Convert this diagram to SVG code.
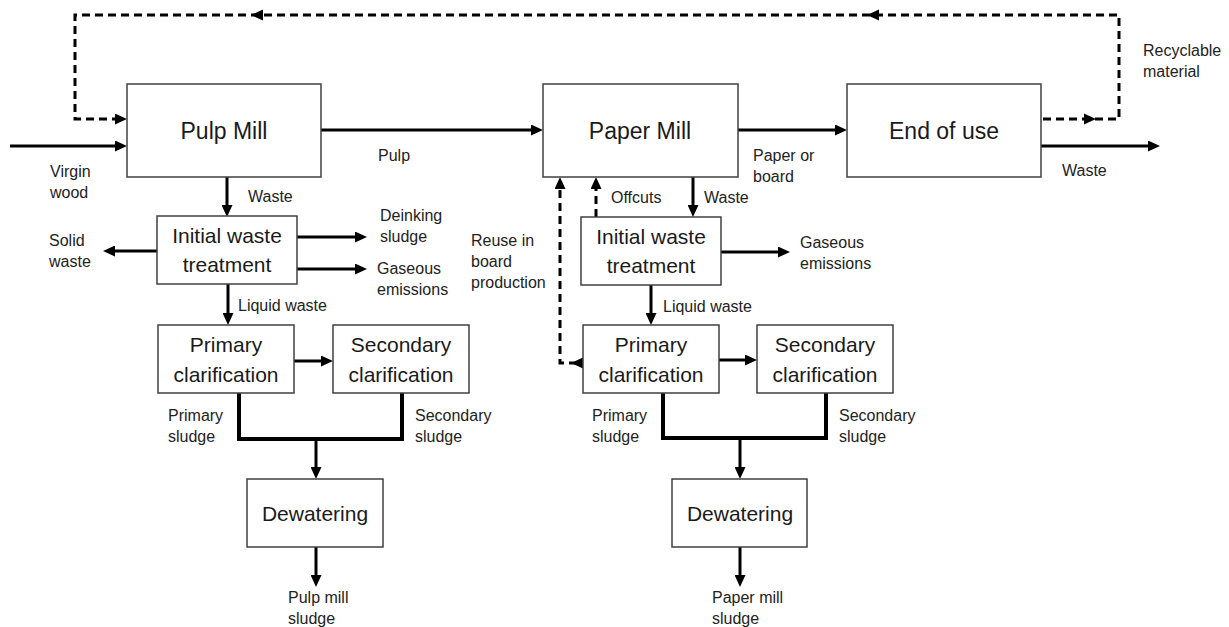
<svg xmlns="http://www.w3.org/2000/svg" width="1229" height="627" viewBox="0 0 1229 627">
<style>
.box{fill:#fff;stroke:#404040;stroke-width:1.5}
.nt{font-family:"Liberation Sans",Arial,sans-serif;font-size:21px;fill:#1a1a1a;text-anchor:middle}
.mt{font-family:"Liberation Sans",Arial,sans-serif;font-size:23px;fill:#1a1a1a;text-anchor:middle}
.lb{font-family:"Liberation Sans",Arial,sans-serif;font-size:16px;fill:#222}
.ln{fill:none;stroke:#000;stroke-width:3}
.sl{fill:none;stroke:#000;stroke-width:4}
.ds{fill:none;stroke:#000;stroke-width:3;stroke-dasharray:8 5}
.ar{marker-end:url(#ah)}
</style>
<defs>
<marker id="ah" markerUnits="userSpaceOnUse" markerWidth="12" markerHeight="11" refX="6" refY="5.5" orient="auto">
<path d="M0,0 L12,5.5 L0,11 z" fill="#000"/>
</marker>
<path id="tri" d="M-6,-5.5 L6,0 L-6,5.5 z" fill="#000"/>
</defs>
<rect width="1229" height="627" fill="#fff"/>

<g id="connectors">
<path class="ln ar" d="M10,146 H121"/>
<path class="ln ar" d="M321,130 H537"/>
<path class="ln ar" d="M738,130 H841"/>
<path class="ln ar" d="M1041,146 H1154"/>
<path class="ds ar" d="M1043,119 H1119 V15 H75 V119 H121"/>
<use href="#tri" transform="translate(1090,119)"/>
<use href="#tri" transform="translate(873,15) rotate(180)"/>
<use href="#tri" transform="translate(257,15) rotate(180)"/>

<path class="ln ar" d="M227,177 V211"/>
<path class="ln ar" d="M157,251 H109"/>
<path class="ln ar" d="M297,237 H361"/>
<path class="ln ar" d="M297,269 H361"/>
<path class="ln ar" d="M228,284 V319"/>
<path class="ln ar" d="M294,361 H327"/>
<path class="sl" d="M239,393 V439 H402 V393"/>
<path class="ln ar" d="M316,439 V473"/>
<path class="ln ar" d="M316,547 V581"/>

<path class="ln ar" d="M693,177 V211"/>
<path class="ds ar" d="M596,217 V183"/>
<path class="ds ar" d="M577,363 H560 V183"/>
<use href="#tri" transform="translate(577,363) rotate(180)"/>
<path class="ln ar" d="M721,252 H784"/>
<path class="ln ar" d="M651,285 V319"/>
<path class="ln ar" d="M719,360 H751"/>
<path class="sl" d="M663,393 V438 H826 V393"/>
<path class="ln ar" d="M740,438 V473"/>
<path class="ln ar" d="M740,547 V581"/>
</g>

<g id="pulp-mill"><rect class="box" x="127" y="84" width="194" height="93"/><text class="mt" x="224" y="139">Pulp Mill</text></g>
<g id="paper-mill"><rect class="box" x="543" y="84" width="195" height="93"/><text class="mt" x="640" y="139">Paper Mill</text></g>
<g id="end-of-use"><rect class="box" x="847" y="84" width="194" height="93"/><text class="mt" x="944" y="139">End of use</text></g>

<g id="iwt-left"><rect class="box" x="157" y="216" width="140" height="68"/><text class="nt" x="227" y="243">Initial waste</text><text class="nt" x="227" y="272">treatment</text></g>
<g id="pc-left"><rect class="box" x="158" y="325" width="136" height="68"/><text class="nt" x="226" y="352">Primary</text><text class="nt" x="226" y="382">clarification</text></g>
<g id="sc-left"><rect class="box" x="333" y="325" width="136" height="68"/><text class="nt" x="401" y="352">Secondary</text><text class="nt" x="401" y="382">clarification</text></g>
<g id="dw-left"><rect class="box" x="247" y="479" width="136" height="68"/><text class="nt" x="315" y="521">Dewatering</text></g>

<g id="iwt-right"><rect class="box" x="581" y="217" width="140" height="68"/><text class="nt" x="651" y="244">Initial waste</text><text class="nt" x="651" y="273">treatment</text></g>
<g id="pc-right"><rect class="box" x="583" y="325" width="136" height="68"/><text class="nt" x="651" y="352">Primary</text><text class="nt" x="651" y="382">clarification</text></g>
<g id="sc-right"><rect class="box" x="757" y="325" width="136" height="68"/><text class="nt" x="825" y="352">Secondary</text><text class="nt" x="825" y="382">clarification</text></g>
<g id="dw-right"><rect class="box" x="672" y="479" width="135" height="68"/><text class="nt" x="740" y="521">Dewatering</text></g>

<g id="labels">
<text class="lb" x="50" y="177">Virgin</text><text class="lb" x="50" y="198">wood</text>
<text class="lb" x="378" y="161">Pulp</text>
<text class="lb" x="248" y="202">Waste</text>
<text class="lb" x="753" y="161">Paper or</text><text class="lb" x="753" y="182">board</text>
<text class="lb" x="611" y="203">Offcuts</text>
<text class="lb" x="704" y="203">Waste</text>
<text class="lb" x="1062" y="176">Waste</text>
<text class="lb" x="1143" y="56">Recyclable</text><text class="lb" x="1143" y="77">material</text>
<text class="lb" x="380" y="221">Deinking</text><text class="lb" x="380" y="242">sludge</text>
<text class="lb" x="49" y="246">Solid</text><text class="lb" x="49" y="267">waste</text>
<text class="lb" x="377" y="274">Gaseous</text><text class="lb" x="377" y="295">emissions</text>
<text class="lb" x="238" y="311">Liquid waste</text>
<text class="lb" x="471" y="246">Reuse in</text><text class="lb" x="471" y="267">board</text><text class="lb" x="471" y="288">production</text>
<text class="lb" x="168" y="421">Primary</text><text class="lb" x="168" y="442">sludge</text>
<text class="lb" x="415" y="421">Secondary</text><text class="lb" x="415" y="442">sludge</text>
<text class="lb" x="800" y="248">Gaseous</text><text class="lb" x="800" y="269">emissions</text>
<text class="lb" x="663" y="312">Liquid waste</text>
<text class="lb" x="592" y="421">Primary</text><text class="lb" x="592" y="442">sludge</text>
<text class="lb" x="839" y="421">Secondary</text><text class="lb" x="839" y="442">sludge</text>
<text class="lb" x="288" y="603">Pulp mill</text><text class="lb" x="288" y="624">sludge</text>
<text class="lb" x="712" y="603">Paper mill</text><text class="lb" x="712" y="624">sludge</text>
</g>
</svg>
